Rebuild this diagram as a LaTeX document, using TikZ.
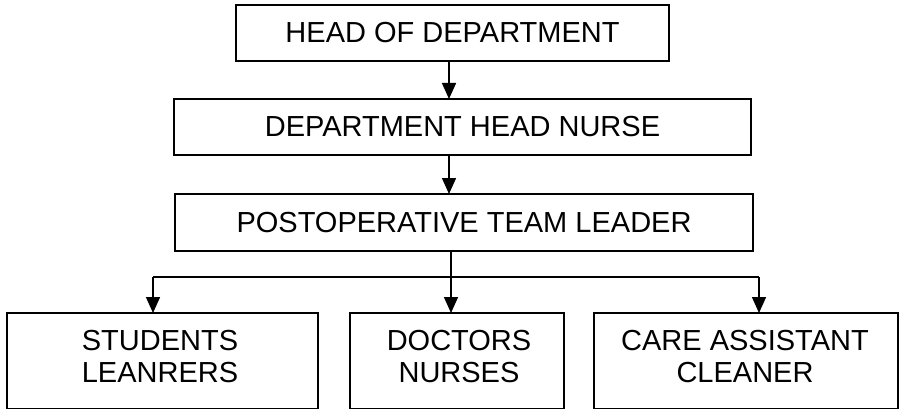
\documentclass[tikz,border=0pt]{standalone}
\usepackage{fontspec}
\setmainfont{Liberation Sans}
\usetikzlibrary{arrows.meta}
\begin{document}
\begin{tikzpicture}[x=1pt,y=-1pt,
  box/.style={draw=black, line width=1.5pt, rectangle, inner sep=0pt, outer sep=0pt},
  toptext/.style={font=\fontsize{29}{33}\selectfont},
  lowtext/.style={font=\fontsize{29}{32}\selectfont, align=center, inner sep=0pt},
  link/.style={draw=black, line width=1.5pt},
  arr/.style={link, -{Triangle[length=16pt, width=14pt]}}]
  \useasboundingbox[fill=white] (0,0) rectangle (905,409);

  % management chain
  \node[box, toptext, minimum width=433pt, minimum height=56pt] (b1) at (452.5,33) {HEAD OF DEPARTMENT};
  \node[box, toptext, minimum width=577pt, minimum height=56pt] (b2) at (462.5,127) {DEPARTMENT HEAD NURSE};
  \node[box, toptext, minimum width=578pt, minimum height=57pt] (b3) at (464,222.5) {POSTOPERATIVE TEAM LEADER};

  % staff groups (their lower edge runs along the page border)
  \node[box, minimum width=311pt, minimum height=96pt] (b4) at (162.5,361) {};
  \node[box, minimum width=214pt, minimum height=96pt] (b5) at (457,361) {};
  \node[box, minimum width=304pt, minimum height=96pt] (b6) at (746,361) {};
  \node[lowtext] (t4) at (160,357) {STUDENTS\\LEANRERS};
  \node[lowtext] (t5) at (459,357) {DOCTORS\\NURSES};
  \node[lowtext] (t6) at (745,357) {CARE ASSISTANT\\CLEANER};

  % connector guides
  \coordinate (spine) at (449,0);
  \coordinate (stem) at (451,0);
  \coordinate (barL) at (153,277);
  \coordinate (barR) at (759,277);

  \draw[arr] (b1.south -| spine) -- (b2.north -| spine);
  \draw[arr] (b2.south -| spine) -- (b3.north -| spine);
  \draw[arr] (b3.south -| stem) -- (b5.north -| stem);
  \draw[link] (barL) -- (barR);
  \draw[arr] (barL) -- (b4.north -| barL);
  \draw[arr] (barR) -- (b6.north -| barR);
\end{tikzpicture}
\end{document}
